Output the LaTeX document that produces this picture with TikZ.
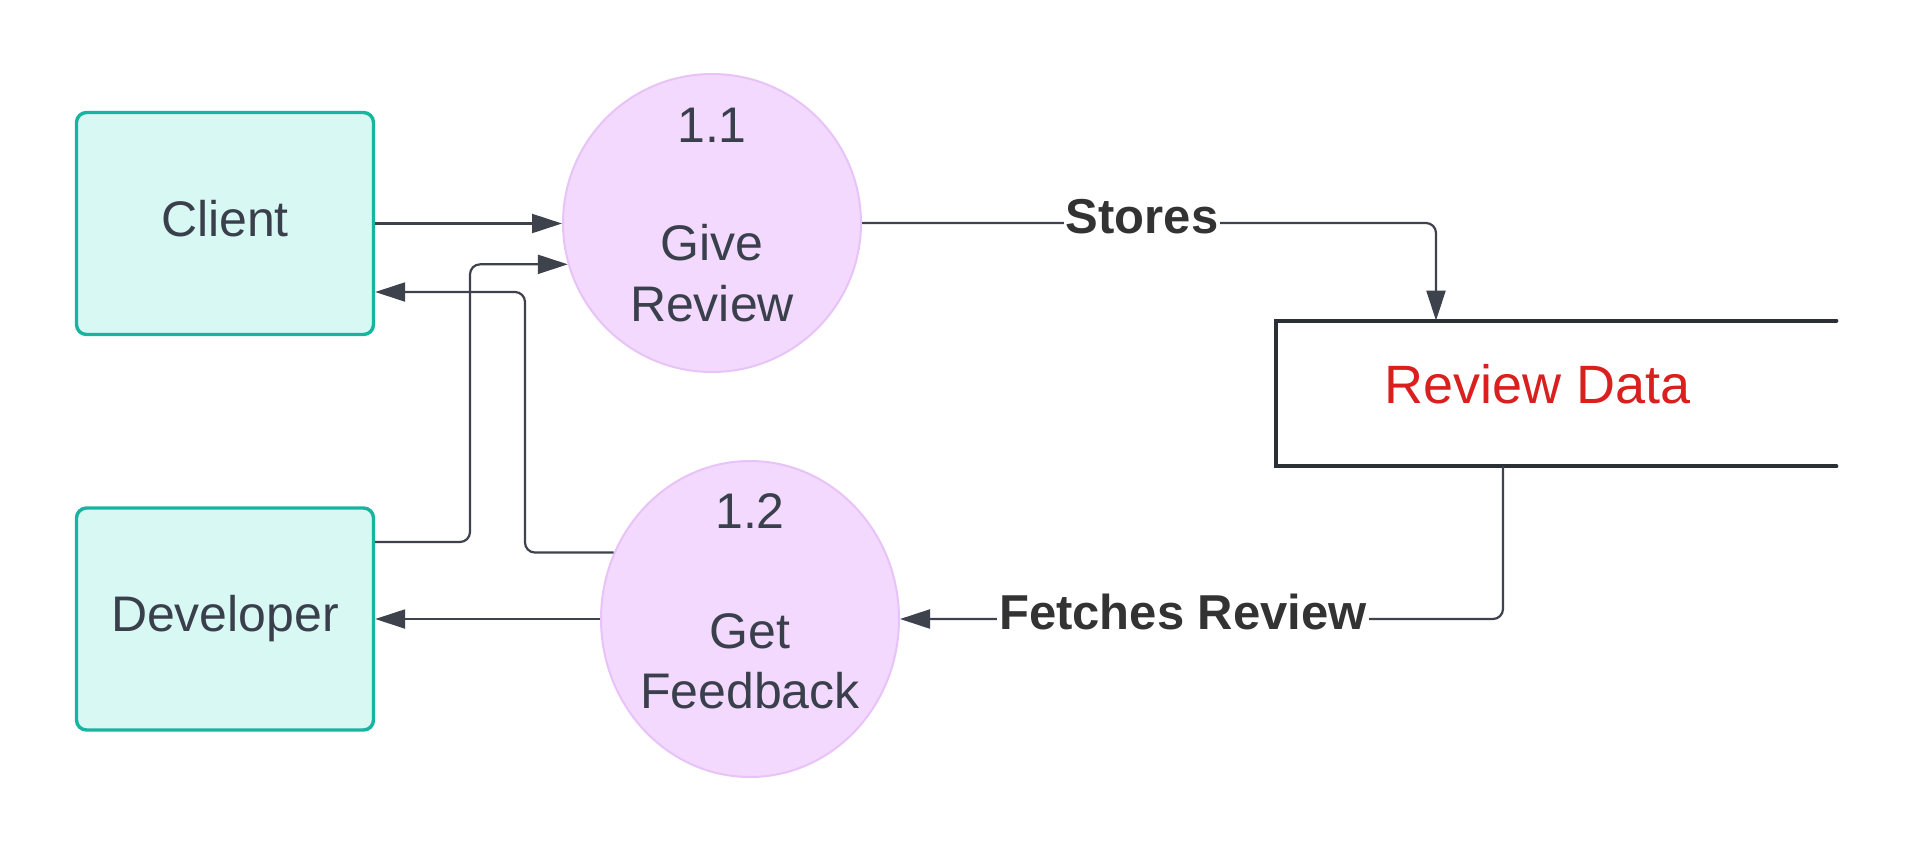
\documentclass[tikz,border=0pt]{standalone}
\usepackage{fontspec}
\setmainfont{Liberation Sans}
\usetikzlibrary{arrows.meta,shapes.geometric,calc}
\definecolor{txt}{HTML}{3A3F4C}
\definecolor{linec}{HTML}{3D424D}
\definecolor{lblc}{HTML}{333333}
\definecolor{tealb}{HTML}{17B5A0}
\definecolor{tealf}{HTML}{D7F8F3}
\definecolor{purb}{HTML}{E8C3F8}
\definecolor{purf}{HTML}{F2D9FD}
\definecolor{redc}{HTML}{DA1F1F}
\definecolor{storec}{HTML}{2B2F36}
\begin{document}
\begin{tikzpicture}[x=0.5pt,y=-0.5pt,
  entity/.style={draw=tealb, fill=tealf, line width=1.7pt, rounded corners=5pt,
    minimum width=148.5pt, minimum height=111pt, inner sep=0pt, text depth=5.3pt,
    font=\fontsize{25}{29}\selectfont, text=txt},
  proc/.style={draw=purb, fill=purf, line width=1pt, circle, minimum size=149pt, inner sep=0pt},
  procell/.style={draw=purb, fill=purf, line width=1pt, ellipse, minimum width=149pt, minimum height=158pt, inner sep=0pt},
  ptxt/.style={anchor=base, inner sep=0pt, font=\fontsize{25}{29}\selectfont, text=txt},
  flow/.style={draw=linec, line width=1.1pt, rounded corners=5pt, -{Triangle[length=15pt,width=9.5pt]}},
  lbl/.style={anchor=base, fill=white, inner sep=1pt, font=\bfseries\fontsize{24.5}{28}\selectfont, text=lblc},
  storeline/.style={draw=storec, line width=2pt, line cap=round, line join=miter},
]
\useasboundingbox (0,0) rectangle (1913,853);

% entities
\node[entity] (client) at (225,223.5) {Client};
\node[entity] (developer) at (225,619) {Developer};

% processes
\node[proc] (p11) at (712,223) {};
\node[procell] (p12) at (750,619) {};
\node[ptxt] (n11) at (712,142) {1.1};
\node[ptxt] (g11) at (712,260) {Give};
\node[ptxt] (r11) at (712,321) {Review};
\node[ptxt] (n12) at (750,528) {1.2};
\node[ptxt] (g12) at (750,648) {Get};
\node[ptxt] (f12) at (750,708) {Feedback};

% data store
\node[minimum width=280pt, minimum height=72.5pt, inner sep=0pt] (store) at (1556,393.5) {};
\draw[storeline] (store.north east) -- (store.north west) -- (store.south west) -- (store.south east);
\node[anchor=base, inner sep=0pt, font=\fontsize{27}{31}\selectfont, text=redc] (rdtxt) at (1538,403) {Review Data};

% connectors
\draw[flow] (client.east) -- (client.east -| p11.west);
\draw[flow] (developer.east |- 0,542) -- (470,542) |- (p11.196);
\draw[flow] (p12.154) -| (525,292) -- (client.east |- 0,292);
\draw[flow] (p12.west) -- (developer.east);
\draw[flow] (p11.east) -| (store.north -| 1436,0);
\draw[flow] (store.south -| 1503,0) |- (p12.east);

% labels
\node[lbl] (stores) at (1142,233) {Stores};
\node[lbl] (fetches) at (1183,629) {Fetches Review};
\end{tikzpicture}
\end{document}
